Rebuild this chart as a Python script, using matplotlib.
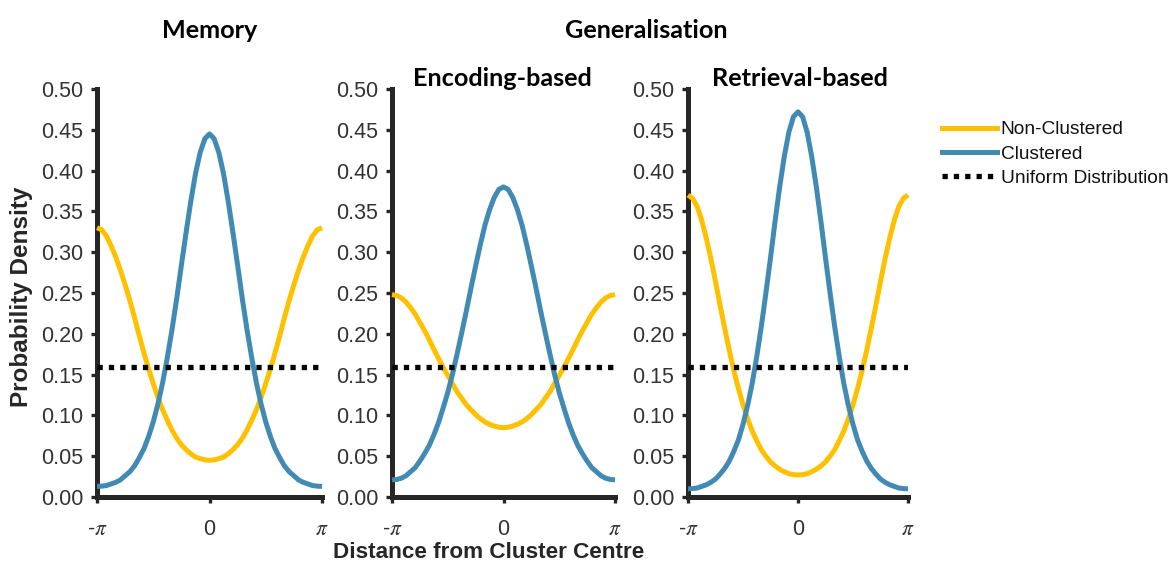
import numpy as np
import matplotlib
matplotlib.use('Agg')
import matplotlib.pyplot as plt
from matplotlib.lines import Line2D

plt.rcParams['font.family'] = ['Liberation Sans', 'DejaVu Sans']
plt.rcParams['mathtext.fontset'] = 'stix'

# angle from cluster centre, degrees (-180 .. 180 in 7.5 steps)
x_deg = np.linspace(-180, 180, 49)

# memory
mem_nonclust = [0.330, 0.3275, 0.320, 0.308, 0.294, 0.278, 0.260, 0.241, 0.220, 0.198, 0.177, 0.157, 0.139,
                0.122, 0.107, 0.094, 0.082, 0.072, 0.064, 0.058, 0.053, 0.049, 0.047, 0.0455, 0.045,
                0.0455, 0.047, 0.049, 0.053, 0.058, 0.064, 0.072, 0.082, 0.094, 0.107, 0.122, 0.139,
                0.157, 0.177, 0.198, 0.220, 0.241, 0.260, 0.278, 0.294, 0.308, 0.320, 0.3275, 0.330]
mem_clust = [0.013, 0.0133, 0.014, 0.016, 0.018, 0.021, 0.026, 0.031, 0.038, 0.048, 0.059, 0.074, 0.092,
             0.114, 0.140, 0.171, 0.205, 0.243, 0.284, 0.324, 0.362, 0.396, 0.422, 0.439, 0.445,
             0.439, 0.422, 0.396, 0.362, 0.324, 0.284, 0.243, 0.205, 0.171, 0.140, 0.114, 0.092,
             0.074, 0.059, 0.048, 0.038, 0.031, 0.026, 0.021, 0.018, 0.016, 0.014, 0.0133, 0.013]

# generalisation, encoding-based
enc_nonclust = [0.248, 0.247, 0.244, 0.239, 0.232, 0.224, 0.214, 0.204, 0.193, 0.181, 0.170, 0.159, 0.149,
                0.139, 0.129, 0.121, 0.113, 0.107, 0.101, 0.096, 0.092, 0.089, 0.087, 0.0854, 0.085,
                0.0854, 0.087, 0.089, 0.092, 0.096, 0.101, 0.107, 0.113, 0.121, 0.129, 0.139, 0.149,
                0.159, 0.170, 0.181, 0.193, 0.204, 0.214, 0.224, 0.232, 0.239, 0.244, 0.247, 0.248]
enc_clust = [0.021, 0.0215, 0.023, 0.026, 0.031, 0.036, 0.044, 0.053, 0.063, 0.076, 0.091, 0.109, 0.128,
             0.150, 0.175, 0.201, 0.228, 0.256, 0.283, 0.309, 0.333, 0.352, 0.367, 0.377, 0.380,
             0.377, 0.367, 0.352, 0.333, 0.309, 0.283, 0.256, 0.228, 0.201, 0.175, 0.150, 0.128,
             0.109, 0.091, 0.076, 0.063, 0.053, 0.044, 0.036, 0.031, 0.026, 0.023, 0.0215, 0.021]

# generalisation, retrieval-based
ret_nonclust = [0.370, 0.366, 0.356, 0.339, 0.317, 0.292, 0.264, 0.235, 0.207, 0.180, 0.155, 0.133, 0.113,
                0.096, 0.081, 0.069, 0.058, 0.050, 0.043, 0.038, 0.034, 0.031, 0.0286, 0.0274, 0.027,
                0.0274, 0.0286, 0.031, 0.034, 0.038, 0.043, 0.050, 0.058, 0.069, 0.081, 0.096, 0.113,
                0.133, 0.155, 0.180, 0.207, 0.235, 0.264, 0.292, 0.317, 0.339, 0.356, 0.366, 0.370]
ret_clust = [0.010, 0.0103, 0.011, 0.013, 0.015, 0.018, 0.022, 0.028, 0.035, 0.044, 0.056, 0.070, 0.089,
             0.112, 0.139, 0.172, 0.209, 0.250, 0.293, 0.338, 0.380, 0.417, 0.447, 0.466, 0.472,
             0.466, 0.447, 0.417, 0.380, 0.338, 0.293, 0.250, 0.209, 0.172, 0.139, 0.112, 0.089,
             0.070, 0.056, 0.044, 0.035, 0.028, 0.022, 0.018, 0.015, 0.013, 0.011, 0.0103, 0.010]

uniform_density = 0.159

panel_titles = ['', 'Encoding-based', 'Retrieval-based']
series_labels = ['Non-Clustered', 'Clustered', 'Uniform Distribution']

YELLOW = '#FFC000'
BLUE = '#418AB4'
AXCOL = '#262626'
TXTCOL = '#333333'

x = np.deg2rad(x_deg)

W, H = 1173, 563
fig = plt.figure(figsize=(W / 100, H / 100), dpi=100)

# left edge / width of each panel in pixels
boxes = [(97, 225), (392, 223), (688, 220)]
data = [(mem_nonclust, mem_clust), (enc_nonclust, enc_clust), (ret_nonclust, ret_clust)]

for (left, width), (nonclust, clust), title in zip(boxes, data, panel_titles):
    ax = fig.add_axes([left / W, (H - 497) / H, width / W, 408 / H])
    ax.plot(x, nonclust, color=YELLOW, lw=3.6, solid_capstyle='butt', solid_joinstyle='round',
            clip_on=False, zorder=3)
    ax.plot(x, clust, color=BLUE, lw=3.6, solid_capstyle='butt', solid_joinstyle='round',
            clip_on=False, zorder=3)
    ax.plot([-np.pi, np.pi], [uniform_density, uniform_density], color='black', lw=3.8,
            linestyle=(0, (1, 1.15)), dash_capstyle='butt', zorder=4)

    ax.set_xlim(-np.pi, np.pi)
    ax.set_ylim(0, 0.5)
    ax.set_yticks(np.arange(0, 0.51, 0.05))
    ax.set_yticklabels(['%.2f' % v for v in np.arange(0, 0.51, 0.05)])
    ax.set_xticks([-np.pi, 0, np.pi])
    ax.set_xticklabels([r'-$\pi$', '0', r'$\pi$'])

    for s in ['top', 'right']:
        ax.spines[s].set_visible(False)
    for s in ['left', 'bottom']:
        ax.spines[s].set_linewidth(3.6)
        ax.spines[s].set_color(AXCOL)
        ax.spines[s].set_capstyle('projecting')
    ax.tick_params(axis='both', direction='out', length=4, width=2.4, color=AXCOL,
                   labelcolor=TXTCOL)
    ax.tick_params(axis='y', labelsize=15.5, pad=6)
    ax.tick_params(axis='x', labelsize=15.5, pad=12)

title_kw = dict(family='Lato', weight='bold', fontsize=18.2, ha='center', va='center', color='black')
fig.text(210 / W, 1 - 30 / H, 'Memory', **title_kw)
fig.text(646 / W, 1 - 30 / H, 'Generalisation', **title_kw)
fig.text(502 / W, 1 - 79 / H, panel_titles[1], **title_kw)
fig.text(800 / W, 1 - 79 / H, panel_titles[2], **title_kw)

fig.text(489 / W, 1 - 553 / H, 'Distance from Cluster Centre', weight='bold', fontsize=16.2,
         ha='center', va='center', color=AXCOL)
fig.text(22 / W, 1 - 297 / H, 'Probability Density', weight='bold', fontsize=17.5,
         ha='center', va='center', rotation=90, color=AXCOL)

handles = [Line2D([], [], color=YELLOW, lw=3.6),
           Line2D([], [], color=BLUE, lw=3.6),
           Line2D([], [], color='black', lw=3.8, linestyle=(0, (1, 1.15)), dash_capstyle='butt')]
fig.legend(handles, series_labels, loc='upper left', bbox_to_anchor=(942 / W, 1 - 121 / H),
           frameon=False, fontsize=13.8, handlelength=2.85, handletextpad=0.22, labelspacing=0.36,
           borderaxespad=0, borderpad=0, labelcolor='#111111')

fig.savefig('out.png', dpi=100)
